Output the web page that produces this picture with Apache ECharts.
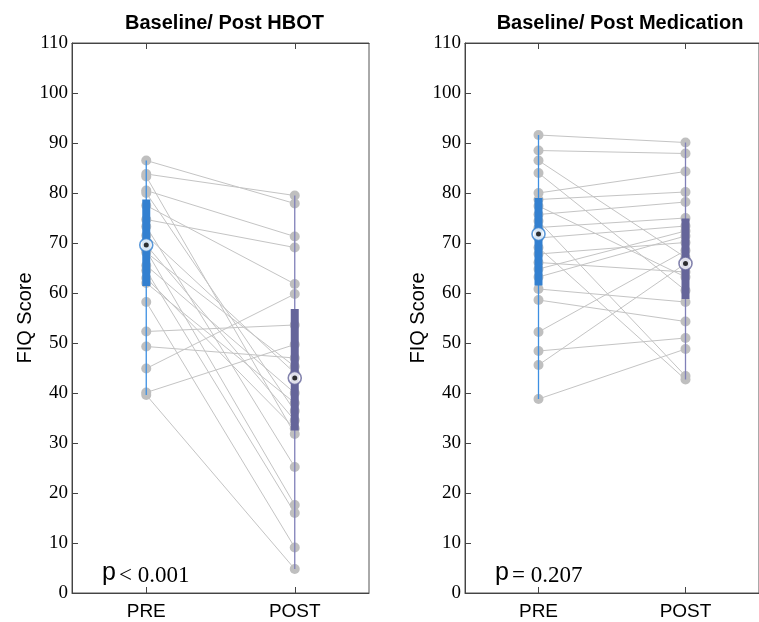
<!DOCTYPE html>
<html>
<head>
<meta charset="utf-8">
<script src="https://cdn.jsdelivr.net/npm/echarts@6/dist/echarts.min.js"></script>
<style>html,body{margin:0;padding:0;background:#fff;}#c{width:759px;height:622px;}</style>
</head>
<body>
<div id="c"></div>
<script>
// ---- data ----
const categories = ['PRE', 'POST'];
const titles = ['Baseline/ Post HBOT', 'Baseline/ Post Medication'];
const pTexts = [['p', '< 0.001'], ['p', '= 0.207']];
const yMin = 0, yMax = 110, yStep = 10;

// paired subject scores (same index = same subject)
const hbotPre  = [86.5, 83.8, 83.3, 80.5, 80.0, 77.5, 74.7, 73.3, 71.5, 69.6, 68.5, 68.1, 65.5, 64.5, 63.0, 62.0, 58.2, 52.3, 49.3, 44.9, 40.1, 39.6];
const hbotPost = [77.9, 79.5, 31.8, 71.3, 36.4, 61.8, 69.1, 25.2, 44.0, 34.5, 17.6, 45.3, 40.0, 16.0, 32.9, 38.0, 9.1, 53.6, 47.0, 59.8, 49.7, 4.8];

const medPre  = [91.6, 88.5, 86.5, 84.0, 80.0, 78.7, 77.4, 75.7, 74.4, 73.1, 71.0, 69.1, 67.8, 66.1, 64.8, 63.2, 60.8, 58.6, 52.2, 48.4, 45.6, 38.8];
const medPost = [90.1, 87.9, 67.1, 60.5, 84.3, 80.2, 63.2, 78.2, 43.4, 75.0, 73.4, 42.7, 70.1, 64.2, 72.4, 71.4, 58.2, 54.3, 68.5, 51.0, 65.9, 48.8];

// box stats: [min, q1, median, q3, max]
const hbotPreStats  = [39.6, 61.4, 69.6, 78.7, 86.5];
const hbotPostStats = [4.8, 32.5, 43.0, 56.8, 79.5];
const medPreStats   = [38.8, 61.5, 71.8, 79.0, 91.6];
const medPostStats  = [42.7, 58.8, 65.9, 74.9, 90.1];

// ---- styles ----
const boxColors = ['#3380D0', '#65659A'];
const whiskerColors = ['#3D8FE2', '#8080B8'];
const grids = [
  {left: 72, top: 43, width: 297, height: 550},
  {left: 465, top: 43, width: 302, height: 550}
];
const panels = [
  {pre: hbotPre, post: hbotPost, stats: [hbotPreStats, hbotPostStats]},
  {pre: medPre, post: medPost, stats: [medPreStats, medPostStats]}
];

const chart = echarts.init(document.getElementById('c'), null, {renderer: 'canvas'});

const gridOpt = grids.map(g => Object.assign({show: true, borderColor: '#555', borderWidth: 1, backgroundColor: 'transparent'}, g));
const xAxes = [], yAxes = [], series = [], titleOpt = [], graphics = [];

grids.forEach((g, gi) => {
  const axisLineStyle = {color: '#444', width: 1};
  xAxes.push({
    type: 'category', gridIndex: gi, data: categories, position: 'bottom', boundaryGap: true,
    axisLine: {show: true, lineStyle: axisLineStyle},
    axisTick: {show: true, inside: true, alignWithLabel: true, length: 6, lineStyle: axisLineStyle},
    axisLabel: {color: '#000', fontFamily: 'Liberation Sans', fontSize: 19, margin: 9},
    splitLine: {show: false}
  });
  xAxes.push({
    type: 'category', gridIndex: gi, data: categories, position: 'top', boundaryGap: true,
    axisLine: {show: true, lineStyle: axisLineStyle},
    axisTick: {show: true, inside: true, alignWithLabel: true, length: 6, lineStyle: axisLineStyle},
    axisLabel: {show: false}, splitLine: {show: false}
  });
  yAxes.push({
    type: 'value', gridIndex: gi, min: yMin, max: yMax, interval: yStep,
    axisLine: {show: true, lineStyle: axisLineStyle},
    axisTick: {show: true, inside: true, length: 6, lineStyle: axisLineStyle},
    axisLabel: {color: '#000', fontFamily: 'Liberation Serif', fontSize: 19, margin: 4},
    splitLine: {show: false},
    name: 'FIQ Score', nameLocation: 'middle', nameGap: 35,
    nameTextStyle: {color: '#000', fontFamily: 'Liberation Sans', fontSize: 20}
  });
  titleOpt.push({
    text: titles[gi], left: g.left + g.width / 2 - 1, top: 8, textAlign: 'center',
    textStyle: {fontFamily: 'Liberation Sans', fontWeight: 'bold', fontSize: 20, color: '#000'}
  });

  const P = panels[gi];
  const xi = gi * 2, yi = gi;
  // subject lines + points
  for (let i = 0; i < P.pre.length; i++) {
    series.push({
      type: 'line', xAxisIndex: xi, yAxisIndex: yi, silent: true, z: 1,
      data: [[0, P.pre[i]], [1, P.post[i]]],
      symbol: 'circle', symbolSize: 10, showSymbol: true,
      itemStyle: {color: '#BFBFBF'},
      lineStyle: {color: '#C4C4C4', width: 1}
    });
  }
  // whisker + box
  series.push({
    type: 'custom', xAxisIndex: xi, yAxisIndex: yi, silent: true, z: 5,
    data: P.stats.map((s, k) => [k].concat(s)),
    encode: {x: 0, y: [1, 2, 3, 4, 5]},
    renderItem: function (params, api) {
      const k = api.value(0);
      const pMin = api.coord([k, api.value(1)]);
      const pQ1 = api.coord([k, api.value(2)]);
      const pQ3 = api.coord([k, api.value(4)]);
      const pMax = api.coord([k, api.value(5)]);
      const w = 8;
      return {
        type: 'group',
        children: [
          {type: 'line', shape: {x1: pMin[0], y1: pMin[1], x2: pMax[0], y2: pMax[1]},
           style: {stroke: whiskerColors[k], lineWidth: 1.3}},
          {type: 'rect', shape: {x: pQ1[0] - w / 2, y: pQ3[1], width: w, height: pQ1[1] - pQ3[1]},
           style: {fill: boxColors[k]}}
        ]
      };
    }
  });
  // median markers
  series.push({
    type: 'scatter', xAxisIndex: xi, yAxisIndex: yi, silent: true, z: 6,
    symbol: 'circle', symbolSize: 13,
    data: P.stats.map((s, k) => ({value: [k, s[2]], itemStyle: {color: '#fff', borderColor: boxColors[k], borderWidth: 1.6}}))
  });
  series.push({
    type: 'scatter', xAxisIndex: xi, yAxisIndex: yi, silent: true, z: 7,
    symbol: 'circle', symbolSize: 5,
    itemStyle: {color: '#000'},
    data: P.stats.map((s, k) => [k, s[2]])
  });
});

// p-value annotations
const pPos = [{x: 102}, {x: 495}];
pPos.forEach((p, i) => {
  graphics.push({type: 'text', left: p.x, top: 561, z: 10,
    style: {text: pTexts[i][0], fontFamily: 'Liberation Sans', fontSize: 25, fill: '#000'}});
  graphics.push({type: 'text', left: p.x + 17, top: 564, z: 10,
    style: {text: pTexts[i][1], fontFamily: 'Liberation Serif', fontSize: 23, fill: '#000'}});
});

chart.setOption({
  animation: false,
  backgroundColor: '#fff',
  title: titleOpt,
  grid: gridOpt,
  xAxis: xAxes,
  yAxis: yAxes,
  series: series,
  graphic: graphics
});
</script>
</body>
</html>
